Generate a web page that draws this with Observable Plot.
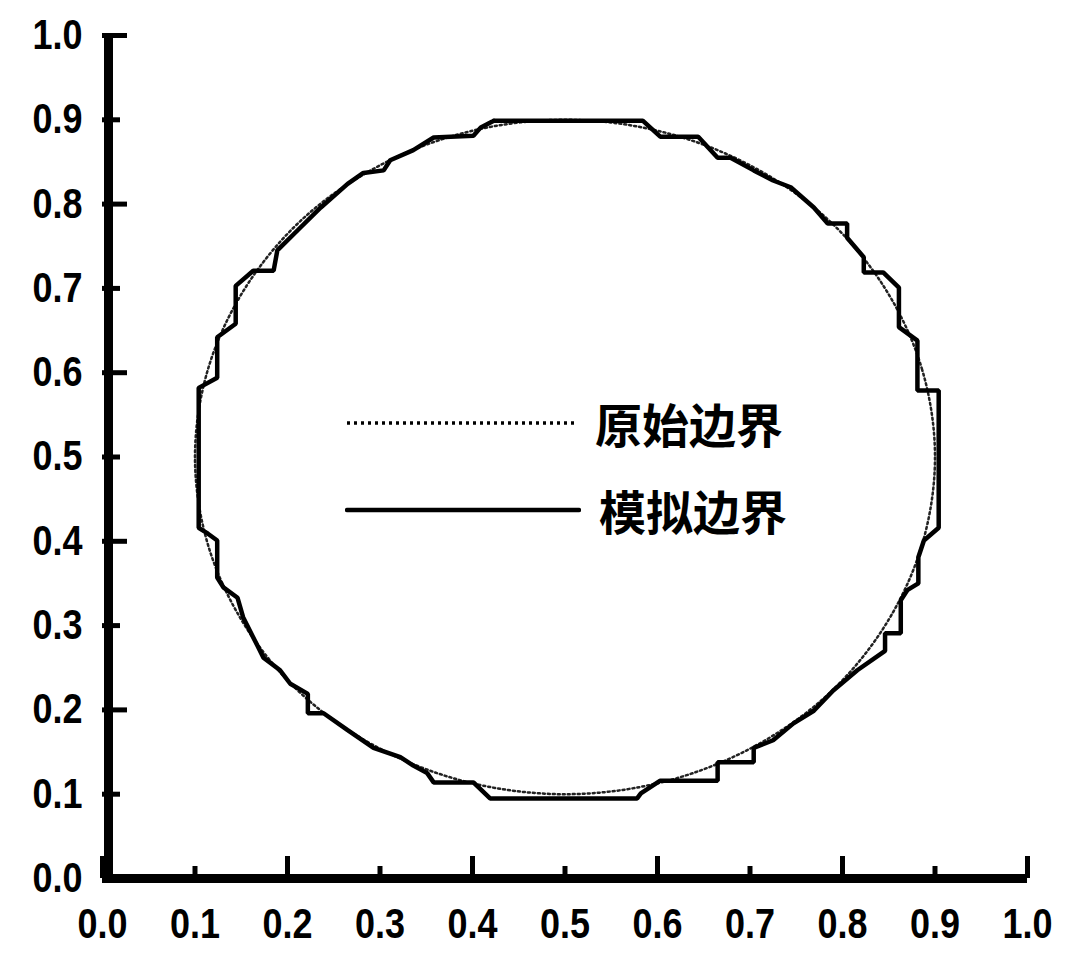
<!DOCTYPE html>
<html>
<head>
<meta charset="utf-8">
<script src="https://cdn.jsdelivr.net/npm/d3@7"></script>
<script src="https://cdn.jsdelivr.net/npm/@observablehq/plot@0.6"></script>
<style>
  body { margin: 0; background: #fff; }
  #chart { position: relative; width: 1070px; height: 960px; }
  #legend { position: absolute; left: 345px; top: 0; }
  .row { position: absolute; left: 0; height: 50px; display: flex; align-items: center; white-space: nowrap; }
  .row span { font-family: "Noto Sans CJK SC", sans-serif; font-weight: 700; font-size: 47px; color: #000; margin-left: 18px; line-height: 50px; }
</style>
</head>
<body>
<div id="chart"><div id="legend"></div></div>
<script>
// Axis ticks (both axes run 0.0 – 1.0)
const tickValues = [0, 0.1, 0.2, 0.3, 0.4, 0.5, 0.6, 0.7, 0.8, 0.9, 1.0];
const majorTicks = [0, 0.2, 0.4, 0.6, 0.8, 1.0];
const minorTicks = [0.1, 0.3, 0.5, 0.7, 0.9];

// Original boundary: circle of radius 0.4 about (0.5, 0.5), sampled every 15°
const originalX = [0.900, 0.886, 0.846, 0.783, 0.700, 0.604, 0.500, 0.396, 0.300, 0.217, 0.154, 0.114,
                   0.100, 0.114, 0.154, 0.217, 0.300, 0.396, 0.500, 0.604, 0.700, 0.783, 0.846, 0.886];
const originalY = [0.500, 0.604, 0.700, 0.783, 0.846, 0.886, 0.900, 0.886, 0.846, 0.783, 0.700, 0.604,
                   0.500, 0.396, 0.300, 0.217, 0.154, 0.114, 0.100, 0.114, 0.154, 0.217, 0.300, 0.396];

// Simulated (stair-stepped) boundary, traced clockwise from the top
const simulatedX = [0.423, 0.584, 0.603, 0.644, 0.665, 0.679, 0.704, 0.725, 0.744, 0.769, 0.784, 0.805,
                    0.805, 0.823, 0.823, 0.844, 0.861, 0.861, 0.881, 0.881, 0.904, 0.904, 0.888, 0.882,
                    0.882, 0.870, 0.863, 0.863, 0.846, 0.846, 0.816, 0.790, 0.769, 0.747, 0.725, 0.704,
                    0.704, 0.665, 0.665, 0.603, 0.582, 0.578, 0.419, 0.401, 0.358, 0.351, 0.336, 0.322,
                    0.293, 0.265, 0.239, 0.222, 0.222, 0.203, 0.192, 0.174, 0.163, 0.152, 0.146, 0.131,
                    0.124, 0.124, 0.114, 0.104, 0.104, 0.124, 0.124, 0.144, 0.144, 0.163, 0.185, 0.189,
                    0.211, 0.236, 0.265, 0.282, 0.304, 0.311, 0.336, 0.358, 0.401, 0.409, 0.423];
const simulatedY = [0.899, 0.899, 0.880, 0.880, 0.855, 0.855, 0.840, 0.828, 0.820, 0.796, 0.777, 0.777,
                    0.760, 0.737, 0.719, 0.719, 0.701, 0.654, 0.638, 0.579, 0.579, 0.416, 0.401, 0.381,
                    0.350, 0.342, 0.330, 0.291, 0.291, 0.270, 0.247, 0.223, 0.199, 0.184, 0.164, 0.155,
                    0.138, 0.138, 0.116, 0.116, 0.101, 0.095, 0.095, 0.114, 0.114, 0.125, 0.134, 0.144,
                    0.155, 0.176, 0.196, 0.196, 0.219, 0.231, 0.247, 0.262, 0.286, 0.310, 0.333, 0.345,
                    0.357, 0.401, 0.409, 0.416, 0.582, 0.594, 0.642, 0.658, 0.703, 0.721, 0.721, 0.745,
                    0.769, 0.796, 0.824, 0.837, 0.840, 0.852, 0.864, 0.879, 0.881, 0.891, 0.899];

const legendLabels = ["原始边界", "模拟边界"];

const original = originalX.map((x, i) => ({x, y: originalY[i]}));
const simulated = simulatedX.map((x, i) => ({x, y: simulatedY[i]}));

const W = 1070, H = 960;
const mL = 102, mR = 43, mT = 35, mB = 82;
const frameW = W - mL - mR, frameH = H - mT - mB;
const axisFont = "'Liberation Sans', Arial, sans-serif";

const chart = Plot.plot({
  width: W,
  height: H,
  marginLeft: mL,
  marginRight: mR,
  marginTop: mT,
  marginBottom: mB,
  x: {domain: [0, 1]},
  y: {domain: [0, 1]},
  style: {background: "#fff", color: "#000", fontFamily: axisFont},
  marks: [
    Plot.line(original, {x: "x", y: "y", curve: "catmull-rom-closed", stroke: "#222",
      strokeWidth: 2.5, strokeDasharray: "2,3"}),
    Plot.line(simulated, {x: "x", y: "y", stroke: "#000", strokeWidth: 4.5, strokeLinejoin: "miter"}),
    // inward tick marks, long on even tenths and short on odd tenths
    Plot.tickX(majorTicks, {x: d => d, insetTop: frameH - 22, stroke: "#000", strokeWidth: 5}),
    Plot.tickX(minorTicks, {x: d => d, insetTop: frameH - 12, stroke: "#000", strokeWidth: 5}),
    Plot.tickY(majorTicks, {y: d => d, insetRight: frameW - 25, stroke: "#000", strokeWidth: 5}),
    Plot.tickY(minorTicks, {y: d => d, insetRight: frameW - 18, stroke: "#000", strokeWidth: 5}),
    // heavy axis lines
    Plot.ruleY([0], {stroke: "#000", strokeWidth: 9}),
    Plot.ruleX([0], {stroke: "#000", strokeWidth: 9, dx: 6}),
    Plot.axisX({ticks: tickValues, tickFormat: ".1f", tickSize: 0, tickPadding: 30,
      fontSize: 40, fontWeight: "bold", label: null}),
    Plot.axisY({ticks: tickValues, tickFormat: ".1f", tickSize: 0, tickPadding: 20,
      fontSize: 40, fontWeight: "bold", label: null})
  ]
});

const host = document.getElementById("chart");
host.insertBefore(chart, host.firstChild);

// Slightly condensed tick labels
d3.select(chart).selectAll("[aria-label$='tick label'] text").each(function() {
  const t = this.getAttribute("transform") || "";
  this.setAttribute("transform", t + " scale(0.9,1.05)");
});

// Legend placed inside the plotting area
const legend = d3.select("#legend");
const legendStyles = [
  {top: 398, dash: "3,4", width: 3.5, len: 232},
  {top: 485, dash: null, width: 4.5, len: 236}
];
legendLabels.forEach((label, i) => {
  const s = legendStyles[i];
  const row = legend.append("div").attr("class", "row").style("top", s.top + "px");
  const svg = row.append("svg").attr("width", s.len).attr("height", 10);
  svg.append("line")
    .attr("x1", 2).attr("x2", s.len - 2).attr("y1", 5).attr("y2", 5)
    .attr("stroke", "#000").attr("stroke-width", s.width)
    .attr("stroke-linecap", s.dash ? "butt" : "round")
    .attr("stroke-dasharray", s.dash);
  row.append("span").text(label);
});
</script>
</body>
</html>
